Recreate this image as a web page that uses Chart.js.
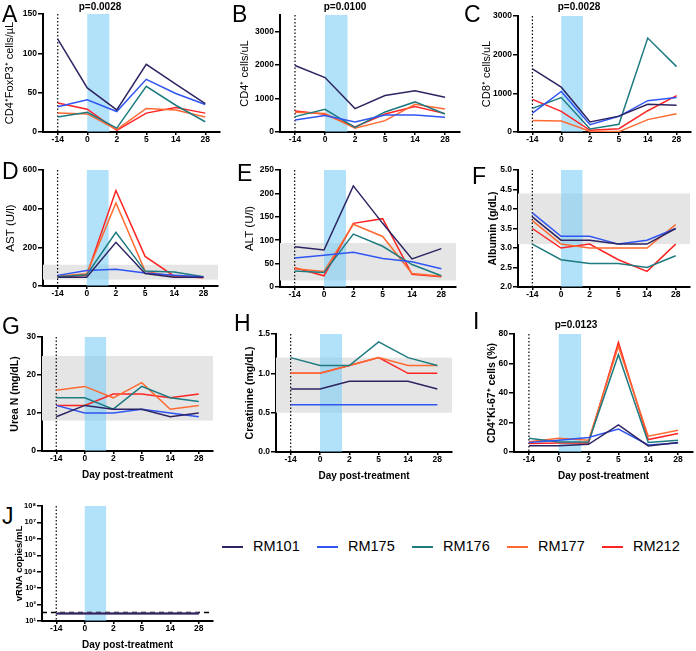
<!DOCTYPE html>
<html>
<head>
<meta charset="utf-8">
<script src="https://cdn.jsdelivr.net/npm/chart.js@4.4.1/dist/chart.umd.min.js"></script>
<style>
  body { margin: 0; background: #fff; }
  #fig { position: relative; width: 696px; height: 651px; overflow: hidden; font-family: "Liberation Sans", Arial, sans-serif; }
  #fig canvas { position: absolute; }
  .lbl { position: absolute; white-space: nowrap; line-height: 1; color: #000; }
  .key { position: absolute; height: 1.5px; width: 21px; }
</style>
</head>
<body>
<div id="fig"></div>
<script>
const days = ['-14', '0', '2', '5', '14', '28'];
const animals = ['RM101', 'RM175', 'RM176', 'RM177', 'RM212'];
const animalColors = ['#2d2462', '#2f56f2', '#1e7b80', '#ff6a32', '#ff2424'];
const treatment = [1, 1.75]; // dosing window, in x index units

// each table: one row per animal, one value per day
const foxp3 = [
  [118, 56, 28, 86, 61, 36],
  [32, 41, 26, 67, 49, 35],
  [19, 25, 5, 58, 34, 13],
  [24, 23, 3, 30, 28, 19],
  [37, 29, 2, 24, 31, 24]
];
const cd4 = [
  [1990, 1630, 700, 1090, 1230, 1040],
  [360, 490, 300, 510, 510, 440],
  [460, 680, 140, 600, 900, 540],
  [590, 550, 110, 340, 830, 690],
  [630, 530, 150, 540, 760, 550]
];
const cd8 = [
  [1630, 1160, 260, 410, 715, 690],
  [490, 1050, 190, 405, 810, 890],
  [610, 890, 80, 200, 2430, 1690],
  [300, 285, 20, 10, 320, 470],
  [845, 535, 45, 85, 550, 940]
];
const ast = [
  [45, 45, 226, 65, 45, 45],
  [55, 80, 86, 67, 56, 48],
  [48, 58, 278, 77, 72, 48],
  [50, 63, 430, 77, 48, 45],
  [46, 55, 494, 153, 51, 43]
];
const alt = [
  [86, 79, 216, 136, 60, 82],
  [62, 68, 74, 61, 54, 39],
  [34, 31, 113, 87, 48, 24],
  [39, 33, 134, 108, 29, 23],
  [41, 24, 136, 146, 27, 22]
];
const albumin = [
  [3.8, 3.2, 3.2, 3.1, 3.1, 3.5],
  [3.9, 3.3, 3.3, 3.1, 3.2, 3.5],
  [3.1, 2.7, 2.6, 2.6, 2.5, 2.8],
  [3.7, 3.1, 3.0, 3.0, 3.0, 3.6],
  [3.5, 3.0, 3.1, 2.7, 2.4, 3.1]
];
const ureaN = [
  [9, 12, 11, 11, 9, 10],
  [12, 10, 10, 11, 10, 9],
  [14, 14, 11, 17, 14, 13],
  [16, 17, 14, 18, 11, 12],
  [12, 12, 15, 15, 14, 15]
];
const creatinine = [
  [0.8, 0.8, 0.9, 0.9, 0.9, 0.8],
  [0.6, 0.6, 0.6, 0.6, 0.6, 0.6],
  [1.2, 1.1, 1.1, 1.4, 1.2, 1.1],
  [1.0, 1.0, 1.1, 1.2, 1.1, 1.1],
  [1.0, 1.0, 1.1, 1.2, 1.0, 1.0]
];
const ki67 = [
  [4.3, 4.3, 5.2, 18.4, 4.1, 6.4],
  [6.4, 8.0, 9.8, 15.5, 4.8, 6.1],
  [9.3, 6.8, 6.8, 66, 6.4, 8.0],
  [7.0, 9.3, 8.0, 71.6, 10.7, 14.8],
  [5.7, 6.1, 6.1, 74.3, 8.4, 12.5]
];
const vrna = [
  [29, 29, 29, 29, 29, 29],
  [29, 29, 29, 29, 29, 29],
  [29, 29, 29, 29, 29, 29],
  [29, 29, 29, 29, 29, 29],
  [29, 29, 29, 29, 29, 29]
];
const vrnaLimit = 33;

// normal ranges (grey bands)
const astRange = [33, 110];
const altRange = [14, 94];
const albuminRange = [3.1, 4.4];
const ureaRange = [8, 25];
const creatinineRange = [0.5, 1.2];

const FONT = '"Liberation Sans", Arial, sans-serif';
const fig = document.getElementById('fig');
const sup = ['⁰', '¹', '²', '³', '⁴', '⁵', '⁶', '⁷', '⁸', '⁹'];

const overlay = {
  id: 'overlay',
  beforeDatasetsDraw(chart, args, opts) {
    const { ctx, chartArea: a, scales: { x, y } } = chart;
    ctx.save();
    if (opts.range) {
      const y1 = y.getPixelForValue(opts.range[1]);
      const y0 = y.getPixelForValue(opts.range[0]);
      ctx.fillStyle = '#e5e5e5';
      ctx.fillRect(a.left, y1, a.right - a.left, y0 - y1);
    }
    const x0 = x.getPixelForValue(treatment[0]);
    const x1 = x.getPixelForValue(treatment[1]);
    ctx.fillStyle = 'rgba(120,205,244,0.58)';
    ctx.fillRect(x0, a.top, x1 - x0, a.bottom - a.top);
    // dotted line at day -14
    const xd = x.getPixelForValue(0);
    ctx.strokeStyle = '#000';
    ctx.lineWidth = 1.2;
    ctx.setLineDash([1.5, 2]);
    ctx.beginPath();
    ctx.moveTo(xd, a.top);
    ctx.lineTo(xd, a.bottom);
    ctx.stroke();
    if (opts.lod) {
      const yl = y.getPixelForValue(opts.lod);
      ctx.lineWidth = 1.5;
      ctx.setLineDash([5, 4]);
      ctx.beginPath();
      ctx.moveTo(a.left, yl);
      ctx.lineTo(a.right, yl);
      ctx.stroke();
    }
    ctx.restore();
  }
};

function text(str, x, y, css) {
  const d = document.createElement('div');
  d.className = 'lbl';
  d.textContent = str;
  d.style.left = x + 'px';
  d.style.top = y + 'px';
  Object.assign(d.style, css);
  fig.appendChild(d);
  return d;
}

function panel(p) {
  const lh = p.titleSize * 1.2;
  const yw = Math.round(p.titleDx + lh / 2);
  const padTop = 10, padRight = 6;
  const w = yw + (p.R - p.L) + padRight;
  const h = padTop + (p.B - p.T) + p.xh;
  const cv = document.createElement('canvas');
  cv.width = w; cv.height = h;
  cv.style.width = w + 'px'; cv.style.height = h + 'px';
  cv.style.left = (p.L - yw) + 'px';
  cv.style.top = (p.T - padTop) + 'px';
  fig.appendChild(cv);

  new Chart(cv, {
    type: 'line',
    data: {
      datasets: p.values.map((row, i) => ({
        label: animals[i],
        data: row.map((v, j) => ({ x: j, y: v })),
        borderColor: animalColors[i],
        borderWidth: 1.5,
        pointRadius: 0,
        tension: 0,
        fill: false
      }))
    },
    options: {
      responsive: false,
      animation: false,
      devicePixelRatio: 1,
      layout: { padding: { top: padTop, right: padRight, left: 0, bottom: 0 } },
      plugins: {
        legend: { display: false },
        tooltip: { enabled: false },
        overlay: { range: p.range, lod: p.lod }
      },
      scales: {
        x: {
          type: 'linear', min: -0.5, max: 5.5,
          afterBuildTicks: s => { s.ticks = days.map((d, i) => ({ value: i })); },
          afterFit: s => { s.height = p.xh; },
          ticks: { callback: v => days[v], font: { family: FONT, size: 8.5, weight: 'bold' }, color: '#000', padding: 0, maxRotation: 0, autoSkip: false },
          grid: { drawOnChartArea: false, tickLength: 3, color: '#000', lineWidth: 1.5 },
          border: { color: '#000', width: 2 },
          title: { display: !!p.xTitle, text: 'Day post-treatment', font: { family: FONT, size: 10, weight: 'bold' }, color: '#000', padding: 0 }
        },
        y: {
          type: p.log ? 'logarithmic' : 'linear', min: p.min, max: p.max,
          afterBuildTicks: s => { s.ticks = p.ticks.map(v => ({ value: v })); },
          afterFit: s => { s.width = yw; },
          ticks: {
            callback: p.log ? (v => '10' + sup[Math.round(Math.log10(v))]) : (v => v.toFixed(p.dec || 0)),
            font: { family: FONT, size: p.log ? 7.5 : 8.5, weight: 'bold' }, color: '#000', padding: 1, autoSkip: false
          },
          grid: { drawOnChartArea: false, tickLength: 5, color: '#000', lineWidth: 1.5 },
          border: { color: '#000', width: 2 },
          title: { display: true, text: p.title, font: { family: FONT, size: p.titleSize, weight: p.titleWeight }, color: '#000', padding: 0 }
        }
      }
    },
    plugins: [overlay]
  });
}

const panels = [
  { values: foxp3, title: 'CD4⁺FoxP3⁺ cells/µL', min: 0, max: 150, ticks: [0, 50, 100, 150],
    L: 43, R: 220, T: 14, B: 132, xh: 14, titleDx: 33, titleSize: 11, titleWeight: 'normal' },
  { values: cd4, title: 'CD4⁺ cells/uL', min: 0, max: 3500, ticks: [0, 1000, 2000, 3000],
    L: 280, R: 460, T: 15, B: 132, xh: 14, titleDx: 35, titleSize: 11, titleWeight: 'normal' },
  { values: cd8, title: 'CD8⁺ cells/uL', min: 0, max: 3000, ticks: [0, 1000, 2000, 3000],
    L: 518, R: 691, T: 16, B: 132, xh: 14, titleDx: 31, titleSize: 11, titleWeight: 'normal' },
  { values: ast, title: 'AST (U/l)', min: 0, max: 600, ticks: [0, 200, 400, 600], range: astRange,
    L: 43, R: 218, T: 170, B: 286, xh: 14, titleDx: 32, titleSize: 11.5, titleWeight: 'normal' },
  { values: alt, title: 'ALT (U/l)', min: 0, max: 250, ticks: [0, 50, 100, 150, 200, 250], range: altRange,
    L: 280, R: 456, T: 170, B: 287, xh: 14, titleDx: 30, titleSize: 11.5, titleWeight: 'normal' },
  { values: albumin, title: 'Albumin (g/dL)', min: 2, max: 5, ticks: [2, 2.5, 3, 3.5, 4, 4.5, 5], dec: 1, range: albuminRange,
    L: 518, R: 690, T: 170, B: 287, xh: 14, titleDx: 25, titleSize: 10.5, titleWeight: 'bold' },
  { values: ureaN, title: 'Urea N (mg/dL)', min: 0, max: 30, ticks: [0, 10, 20, 30], range: ureaRange,
    L: 42, R: 213, T: 337, B: 451, xh: 30, xTitle: true, titleDx: 27, titleSize: 10.5, titleWeight: 'bold' },
  { values: creatinine, title: 'Creatinine (mg/dL)', min: 0, max: 1.5, ticks: [0, 0.5, 1, 1.5], dec: 1, range: creatinineRange,
    L: 276, R: 452, T: 334, B: 452, xh: 30, xTitle: true, titleDx: 26, titleSize: 10.5, titleWeight: 'bold' },
  { values: ki67, title: 'CD4⁺Ki-67⁺ cells (%)', min: 0, max: 80, ticks: [0, 20, 40, 60, 80],
    L: 514, R: 693, T: 334, B: 452, xh: 30, xTitle: true, titleDx: 22, titleSize: 10.5, titleWeight: 'bold' },
  { values: vrna, title: 'vRNA copies/mL', log: true, min: 10, max: 1e8, ticks: [1e1, 1e2, 1e3, 1e4, 1e5, 1e6, 1e7, 1e8], lod: vrnaLimit,
    L: 42, R: 213, T: 506, B: 621, xh: 30, xTitle: true, titleDx: 22, titleSize: 9.5, titleWeight: 'bold' }
];
panels.forEach(panel);

// panel letters
const letterCss = { fontSize: '23px' };
[['A', 2, 3], ['B', 232, 3], ['C', 464, 3], ['D', 2, 160], ['E', 237, 162], ['F', 472, 165],
 ['G', 2, 315], ['H', 234, 312], ['I', 473, 310], ['J', 2, 505]].forEach(([t, x, y]) => text(t, x, y, letterCss));

// p-values above the dosing window
const pCss = { fontSize: '10px', fontWeight: 'bold', transform: 'translateX(-50%)' };
[['p=0.0028', 100, 2], ['p=0.0100', 345, 2], ['p=0.0028', 579, 2], ['p=0.0123', 576, 320]]
  .forEach(([t, x, y]) => text(t, x, y, pCss));

// legend
const keyX = [222, 317, 412, 507, 602];
animals.forEach((name, i) => {
  const k = document.createElement('div');
  k.className = 'key';
  k.style.left = keyX[i] + 'px';
  k.style.top = '546px';
  k.style.background = animalColors[i];
  fig.appendChild(k);
  text(name, keyX[i] + 31, 539, { fontSize: '14.5px' });
});
</script>
</body>
</html>
